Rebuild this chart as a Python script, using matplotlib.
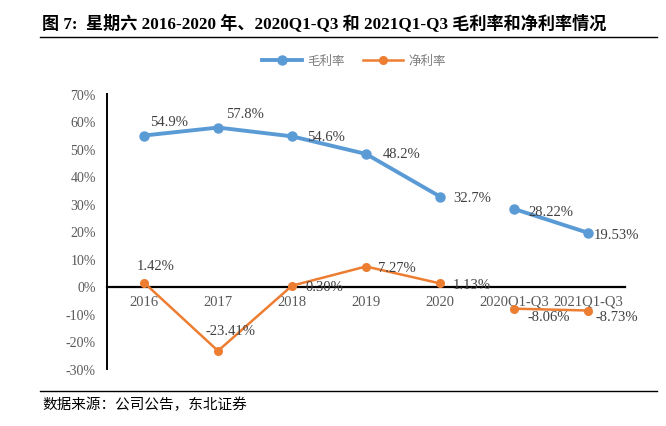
import matplotlib
matplotlib.use("Agg")
import matplotlib.pyplot as plt
from matplotlib.lines import Line2D
from matplotlib.ticker import FuncFormatter

plt.rcParams['font.family'] = ['Liberation Serif', 'Noto Sans CJK SC']

categories = ["2016", "2017", "2018", "2019", "2020", "2020Q1-Q3", "2021Q1-Q3"]
gross_margin = [54.9, 57.8, 54.6, 48.2, 32.7, 28.22, 19.53]
net_margin = [1.42, -23.41, 0.30, 7.27, 1.13, -8.06, -8.73]
gross_labels = ["54.9%", "57.8%", "54.6%", "48.2%", "32.7%", "28.22%", "19.53%"]
net_labels = ["1.42%", "-23.41%", "0.30%", "7.27%", "1.13%", "-8.06%", "-8.73%"]
yticks = [-30, -20, -10, 0, 10, 20, 30, 40, 50, 60, 70]

title = "图 7:  星期六 2016-2020 年、2020Q1-Q3 和 2021Q1-Q3 毛利率和净利率情况"
source = "数据来源：公司公告，东北证券"

blue = "#5B9BD5"
orange = "#ED7D31"
label_col = "#404040"
tick_col = "#595959"

fig = plt.figure(figsize=(6.66, 4.27), dpi=100)
ax = fig.add_axes([107 / 666, 1 - 370 / 427, (625 - 107) / 666, (370 - 95) / 427])

x = list(range(len(categories)))
# annual figures and the two Q1-Q3 figures are drawn as separate segments
for seg in (slice(0, 5), slice(5, 7)):
    ax.plot(x[seg], gross_margin[seg], color=blue, lw=2.8, marker="o", ms=6.5, zorder=3)
    ax.plot(x[seg], net_margin[seg], color=orange, lw=1.8, marker="o", ms=5.5, zorder=3)

# label offsets in pixels (dx, dy)
gross_off = [(6, 14), (8, 14), (15, 0), (17, 0), (13, -1), (14, -3), (6, -2)]
net_off = [(-7, 17), (-13, 20), (13, -1), (12, -1), (13, -1), (14, -8), (8, -6)]
px = 72 / 100
for i in x:
    dx, dy = gross_off[i]
    ax.annotate(gross_labels[i], (i, gross_margin[i]), xytext=(dx * px, dy * px),
                textcoords="offset points", ha="left", va="center",
                fontsize=10.5, color=label_col, zorder=4)
    dx, dy = net_off[i]
    ax.annotate(net_labels[i], (i, net_margin[i]), xytext=(dx * px, dy * px),
                textcoords="offset points", ha="left", va="center",
                fontsize=10.5, color=label_col, zorder=4)

ax.set_xlim(-0.5, len(categories) - 0.5)
ax.set_ylim(-30, 70)
ax.set_yticks(yticks)
ax.yaxis.set_major_formatter(FuncFormatter(lambda v, p: f"{v:.0f}%"))
ax.set_yticks([-30, 70], minor=True)
ax.tick_params(axis="y", which="major", length=0, pad=8, labelsize=10, labelcolor=tick_col)
ax.tick_params(axis="y", which="minor", direction="in", length=4, width=1.2, color="black")

ax.set_xticks(x)
ax.set_xticklabels(categories)
ax.tick_params(axis="x", length=0, pad=6, labelsize=10.5, labelcolor=tick_col)

for s in ("top", "right"):
    ax.spines[s].set_visible(False)
ax.spines["bottom"].set_position(("data", 0))
ax.spines["bottom"].set_linewidth(1.6)
ax.spines["left"].set_linewidth(1.4)
ax.spines["bottom"].set_zorder(2)

handles = [
    Line2D([], [], color=blue, lw=2.8, marker="o", ms=6.5),
    Line2D([], [], color=orange, lw=1.8, marker="o", ms=5.5),
]
fig.legend(handles, ["毛利率", "净利率"], loc="center", bbox_to_anchor=(354 / 666, 1 - 62 / 427),
           ncol=2, frameon=False, fontsize=9, labelcolor="#7f7f7f", handlelength=3.2,
           columnspacing=1.5, handletextpad=0.4)

fig.text(42 / 666, 1 - 23 / 427, title, fontsize=12.3, fontweight="bold", va="center", ha="left")
fig.add_artist(Line2D([40 / 666, 657 / 666], [1 - 38 / 427] * 2, color="black", lw=1))
fig.add_artist(Line2D([40 / 666, 657 / 666], [1 - 392 / 427] * 2, color="black", lw=1))
fig.text(42 / 666, 1 - 405 / 427, source, fontsize=10.5, va="center", ha="left")

fig.savefig("out.png", dpi=100)
